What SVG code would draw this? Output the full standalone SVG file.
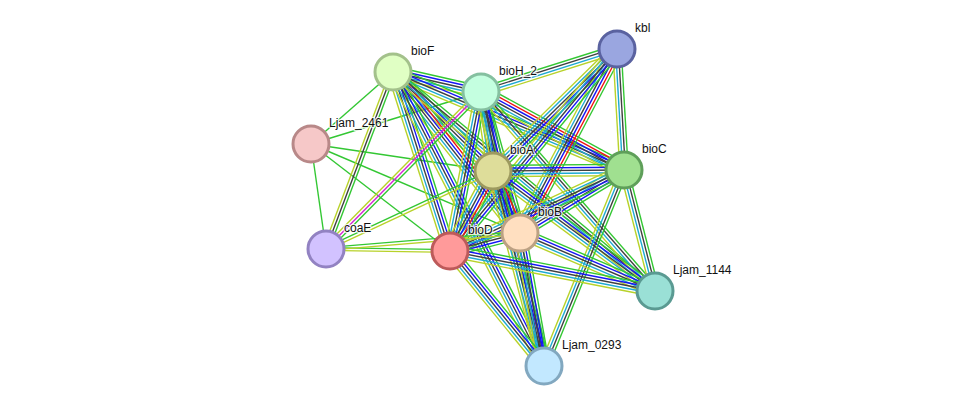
<svg xmlns="http://www.w3.org/2000/svg" width="975" height="412" viewBox="0 0 975 412">
<style>
line{vector-effect:non-scaling-stroke;stroke-width:1.4;fill:none}
.g{stroke:#33c733}.r{stroke:#f01010}.b{stroke:#1515f5}.k{stroke:#404040}.m{stroke:#d424d4}.c{stroke:#1eaad2}.y{stroke:#b8d22a}
.n circle{stroke-width:3}
text{font-family:"Liberation Sans",Arial,sans-serif;font-size:12px;fill:#111;stroke:#fff;stroke-width:2.5;stroke-opacity:0.8;paint-order:stroke;stroke-linejoin:round}
</style>
<defs>
<g id="b5"><line class="g" x2="1" y1="-5.6" y2="-5.6"/><line class="b" x2="1" y1="-2.8" y2="-2.8"/><line class="k" x2="1"/><line class="c" x2="1" y1="2.8" y2="2.8"/><line class="y" x2="1" y1="5.6" y2="5.6"/></g>
<g id="b6"><line class="g" x2="1" y1="-7" y2="-7"/><line class="r" x2="1" y1="-4.2" y2="-4.2"/><line class="b" x2="1" y1="-1.4" y2="-1.4"/><line class="k" x2="1" y1="1.4" y2="1.4"/><line class="c" x2="1" y1="4.2" y2="4.2"/><line class="y" x2="1" y1="7" y2="7"/></g>
<g id="b4"><line class="g" x2="1" y1="-4.2" y2="-4.2"/><line class="k" x2="1" y1="-1.4" y2="-1.4"/><line class="c" x2="1" y1="1.4" y2="1.4"/><line class="y" x2="1" y1="4.2" y2="4.2"/></g>
<g id="b3"><line class="g" x2="1" y1="-2.8" y2="-2.8"/><line class="k" x2="1"/><line class="y" x2="1" y1="2.8" y2="2.8"/></g>
<g id="bm"><line class="g" x2="1" y1="-2.8" y2="-2.8"/><line class="m" x2="1"/><line class="y" x2="1" y1="2.8" y2="2.8"/></g>
<g id="b2"><line class="g" x2="1" y1="-1.4" y2="-1.4"/><line class="y" x2="1" y1="1.4" y2="1.4"/></g>
</defs>
<rect width="975" height="412" fill="#fff"/>
<g id="connectors">
<line class="g" x1="393" y1="72" x2="311" y2="144"/>
<line class="g" x1="311" y1="144" x2="481" y2="92"/>
<line class="g" x1="311" y1="144" x2="493" y2="171"/>
<line class="g" x1="311" y1="144" x2="450" y2="251"/>
<line class="g" x1="326" y1="249" x2="311" y2="144"/>
<line class="g" x1="311" y1="144" x2="520" y2="233"/>
<use href="#b5" transform="matrix(88 20 -0.222 0.975 393 72)"/>
<use href="#b5" transform="matrix(100 99 -0.704 0.711 393 72)"/>
<use href="#b6" transform="matrix(127 161 -0.785 0.619 393 72)"/>
<use href="#b5" transform="matrix(57 179 -0.953 0.303 393 72)"/>
<use href="#b5" transform="matrix(231 98 -0.391 0.921 393 72)"/>
<use href="#b5" transform="matrix(151 294 -0.890 0.457 393 72)"/>
<use href="#b4" transform="matrix(262 219 -0.641 0.767 393 72)"/>
<use href="#b3" transform="matrix(-67 177 -0.935 -0.354 393 72)"/>
<use href="#b4" transform="matrix(136 -43 0.302 0.954 481 92)"/>
<use href="#b5" transform="matrix(12 79 -0.989 0.150 481 92)"/>
<use href="#b5" transform="matrix(39 141 -0.964 0.267 481 92)"/>
<use href="#b5" transform="matrix(-31 159 -0.981 -0.191 481 92)"/>
<use href="#b6" transform="matrix(143 78 -0.479 0.878 481 92)"/>
<use href="#b5" transform="matrix(63 274 -0.975 0.224 481 92)"/>
<use href="#b4" transform="matrix(174 199 -0.753 0.658 481 92)"/>
<use href="#bm" transform="matrix(-155 157 -0.712 -0.703 481 92)"/>
<use href="#b5" transform="matrix(-124 122 -0.701 -0.713 617 49)"/>
<use href="#b6" transform="matrix(-97 184 -0.885 -0.466 617 49)"/>
<use href="#b5" transform="matrix(-167 202 -0.771 -0.637 617 49)"/>
<use href="#b4" transform="matrix(7 121 -0.998 0.058 617 49)"/>
<use href="#b5" transform="matrix(131 -1 0.0076 1 493 171)"/>
<use href="#b6" transform="matrix(27 62 -0.917 0.399 493 171)"/>
<use href="#b6" transform="matrix(-43 80 -0.881 -0.474 493 171)"/>
<use href="#b5" transform="matrix(162 120 -0.595 0.804 493 171)"/>
<use href="#b5" transform="matrix(51 195 -0.967 0.253 493 171)"/>
<use href="#b5" transform="matrix(-104 63 -0.518 -0.855 624 170)"/>
<use href="#b5" transform="matrix(-174 81 -0.422 -0.907 624 170)"/>
<use href="#b4" transform="matrix(31 121 -0.969 0.248 624 170)"/>
<use href="#b4" transform="matrix(-80 196 -0.926 -0.378 624 170)"/>
<use href="#b5" transform="matrix(-70 18 -0.249 -0.968 520 233)"/>
<use href="#b5" transform="matrix(135 58 -0.395 0.919 520 233)"/>
<use href="#b5" transform="matrix(24 133 -0.984 0.178 520 233)"/>
<use href="#b5" transform="matrix(205 40 -0.191 0.981 450 251)"/>
<use href="#b5" transform="matrix(94 115 -0.774 0.633 450 251)"/>
<use href="#b2" transform="matrix(124 2 -0.016 1 326 249)"/>
<use href="#b2" transform="matrix(167 -78 0.423 0.906 326 249)"/>
<use href="#b2" transform="matrix(194 -16 0.082 0.996 326 249)"/>
</g>
<g id="bioF" class="n"><circle cx="393" cy="72" r="18" fill="#e0ffc4" stroke="#a3c18b"/><text x="411" y="55">bioF</text></g>
<g id="bioH_2" class="n"><circle cx="481" cy="92" r="18" fill="#c4ffe0" stroke="#85c0a0"/><text x="499" y="75">bioH_2</text></g>
<g id="kbl" class="n"><circle cx="617" cy="49" r="18" fill="#9aa6e0" stroke="#5a62a0"/><text x="635" y="32">kbl</text></g>
<g id="Ljam_2461" class="n"><circle cx="311" cy="144" r="18" fill="#f6c8c8" stroke="#b88888"/><text x="329" y="127">Ljam_2461</text></g>
<g id="bioA" class="n"><circle cx="493" cy="171" r="18" fill="#dedd9a" stroke="#9d9a5f"/><text x="510" y="154">bioA</text></g>
<g id="bioC" class="n"><circle cx="624" cy="170" r="18" fill="#a0e090" stroke="#5f9f5a"/><text x="642" y="153">bioC</text></g>
<g id="bioB" class="n"><circle cx="520" cy="233" r="18" fill="#ffdfc0" stroke="#bca183"/><text x="538" y="216">bioB</text></g>
<g id="bioD" class="n"><circle cx="450" cy="251" r="18" fill="#ff9a9a" stroke="#bd5a5a"/><text x="468" y="234">bioD</text></g>
<g id="coaE" class="n"><circle cx="326" cy="249" r="18" fill="#d2c2ff" stroke="#9282c2"/><text x="344" y="232">coaE</text></g>
<g id="Ljam_1144" class="n"><circle cx="655" cy="291" r="18" fill="#9ae0d6" stroke="#5a9a92"/><text x="673" y="274">Ljam_1144</text></g>
<g id="Ljam_0293" class="n"><circle cx="544" cy="366" r="18" fill="#c2e8ff" stroke="#82a8c0"/><text x="562" y="349">Ljam_0293</text></g>
</svg>
